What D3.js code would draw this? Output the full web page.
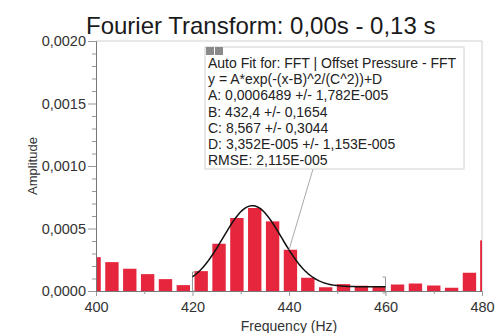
<!DOCTYPE html>
<html>
<head>
<meta charset="utf-8">
<script src="https://cdn.jsdelivr.net/npm/d3@7"></script>
<style>
  body { margin: 0; background: #fff; }
  svg { display: block; font-family: "Liberation Sans", Arial, sans-serif; }
</style>
</head>
<body>
<svg id="chart" width="496" height="333"></svg>
<script>
// FFT bins (Hz) and amplitudes
const freqs = [399.6, 403.3, 407.0, 410.7, 414.4, 418.1, 421.8, 425.5, 429.2, 432.9, 436.6, 440.3,
	443.9, 447.6, 451.3, 455.0, 458.7, 462.5, 466.2, 470.0, 473.7, 477.4, 481.0];
const amps = [0.000271, 0.000231, 0.000178, 0.000135, 0.000095, 0.000047, 0.000159, 0.000378, 0.000584, 0.000664, 0.000557, 0.000330,
	0.000106, 0.000030, 0.000055, 0.000042, 0.000034, 0.000052, 0.000060, 0.000044, 0.000026, 0.000146, 0.000405];
const binWidth = 2.77;

// fit parameters as printed in the box
const fitA = 0.0006489, fitB = 432.4, fitC = 8.567, fitD = 3.352e-5;
const fitRange = [420, 460];
const fitLines = [
	'Auto Fit for: FFT | Offset Pressure - FFT',
	'y = A*exp(-(x-B)^2/(C^2))+D',
	'A: 0,0006489 +/- 1,782E-005',
	'B: 432,4 +/- 0,1654',
	'C: 8,567 +/- 0,3044',
	'D: 3,352E-005 +/- 1,153E-005',
	'RMSE: 2,115E-005'
];

const xTicks = [400, 420, 440, 460, 480];
const yTicks = [0, 0.0005, 0.0010, 0.0015, 0.0020];

const svg = d3.select('#chart');
const margin = { top: 41, right: 14, bottom: 42, left: 96 };
const W = 496, H = 333;

const x = d3.scaleLinear().domain([400, 480]).range([margin.left, W - margin.right]);
const y = d3.scaleLinear().domain([0, 0.002]).range([H - margin.bottom, margin.top]);

const comma = v => d3.format('.4f')(v).replace('.', ',');

svg.append('text')
	.attr('x', 86).attr('y', 34)
	.attr('font-size', 24).attr('fill', '#1a1a1a')
	.text('Fourier Transform: 0,00s - 0,13 s');

svg.append('defs').append('clipPath').attr('id', 'plot')
	.append('rect')
	.attr('x', margin.left).attr('y', margin.top)
	.attr('width', W - margin.left - margin.right)
	.attr('height', H - margin.top - margin.bottom);

// frame
svg.append('path')
	.attr('d', `M${x(400)},${y(0.002)}H${x(480)}V${y(0)}`)
	.attr('fill', 'none').attr('stroke', '#cfcfcf');

// bars
svg.append('g').attr('clip-path', 'url(#plot)')
	.selectAll('rect')
	.data(freqs)
	.enter()
	.append('rect')
	.attr('x', d => x(d - binWidth / 2))
	.attr('width', d => x(d + binWidth / 2) - x(d - binWidth / 2))
	.attr('y', (d, i) => y(amps[i]))
	.attr('height', (d, i) => y(0) - y(amps[i]))
	.attr('fill', '#e5263d');

// fit range brackets
const bb = svg.append('g').attr('stroke', '#999').attr('fill', 'none').attr('stroke-width', 1);
bb.append('path').attr('d', `M${x(fitRange[0]) + 3},${y(0) - 19}h-3v19h3`);
bb.append('path').attr('d', `M${x(fitRange[1]) - 3},${y(0) - 14}h3v16h-3`);

// fit curve
const gauss = f => fitA * Math.exp(-Math.pow(f - fitB, 2) / (fitC * fitC)) + fitD;
const curveX = d3.range(fitRange[0], fitRange[1] + 0.25, 0.25);
svg.append('path')
	.datum(curveX)
	.attr('d', d3.line().x(d => x(d)).y(d => y(gauss(d))))
	.attr('fill', 'none').attr('stroke', '#111').attr('stroke-width', 1.5);

// axes
svg.append('g')
	.attr('transform', `translate(0,${y(0)})`)
	.call(d3.axisBottom(x).tickValues(xTicks).tickSize(5).tickPadding(6).tickFormat(d3.format('d')));
svg.append('g')
	.attr('transform', `translate(0,${y(0)})`)
	.call(d3.axisBottom(x).tickValues([410, 430, 450, 470]).tickSize(3).tickFormat(''))
	.call(g => g.select('.domain').remove());

svg.append('g')
	.attr('transform', `translate(${x(400)},0)`)
	.call(d3.axisLeft(y).tickValues(yTicks).tickSize(8).tickPadding(2).tickFormat(comma));
svg.append('g')
	.attr('transform', `translate(${x(400)},0)`)
	.call(d3.axisLeft(y).tickValues(d3.range(1, 20).filter(i => i % 5).map(i => i * 0.0001)).tickSize(4).tickFormat(''))
	.call(g => g.select('.domain').remove());

svg.selectAll('.domain').attr('stroke', '#777');
svg.selectAll('.tick line').attr('stroke', '#999');
svg.selectAll('.tick text').attr('font-size', 14.5).attr('fill', '#333')
	.attr('font-family', '"Liberation Sans", Arial, sans-serif');

svg.append('text')
	.attr('transform', `translate(37,${(y(0) + y(0.002)) / 2}) rotate(-90)`)
	.attr('text-anchor', 'middle')
	.attr('font-size', 13).attr('fill', '#333')
	.text('Amplitude');

svg.append('text')
	.attr('x', (x(400) + x(480)) / 2).attr('y', 331)
	.attr('text-anchor', 'middle')
	.attr('font-size', 14).attr('fill', '#333')
	.text('Frequency (Hz)');

// fit annotation
const box = { x: 205, y: 47, w: 259, h: 122 };
svg.append('line')
	.attr('x1', 313).attr('y1', box.y + box.h)
	.attr('x2', x(440)).attr('y2', y(gauss(440)))
	.attr('stroke', '#aaa');
svg.append('rect')
	.attr('x', box.x).attr('y', box.y)
	.attr('width', box.w).attr('height', box.h)
	.attr('fill', '#fff').attr('stroke', '#d0d0d0');
svg.selectAll('.icon')
	.data([0, 1])
	.enter()
	.append('rect')
	.attr('x', d => box.x + 1 + d * 9).attr('y', box.y)
	.attr('width', 8).attr('height', 8)
	.attr('fill', '#8a8a8a');
svg.append('g')
	.selectAll('text')
	.data(fitLines)
	.enter()
	.append('text')
	.attr('x', box.x + 3)
	.attr('y', (d, i) => 68 + i * 16.2)
	.attr('font-size', 14).attr('fill', '#222')
	.text(d => d);
</script>
</body>
</html>
